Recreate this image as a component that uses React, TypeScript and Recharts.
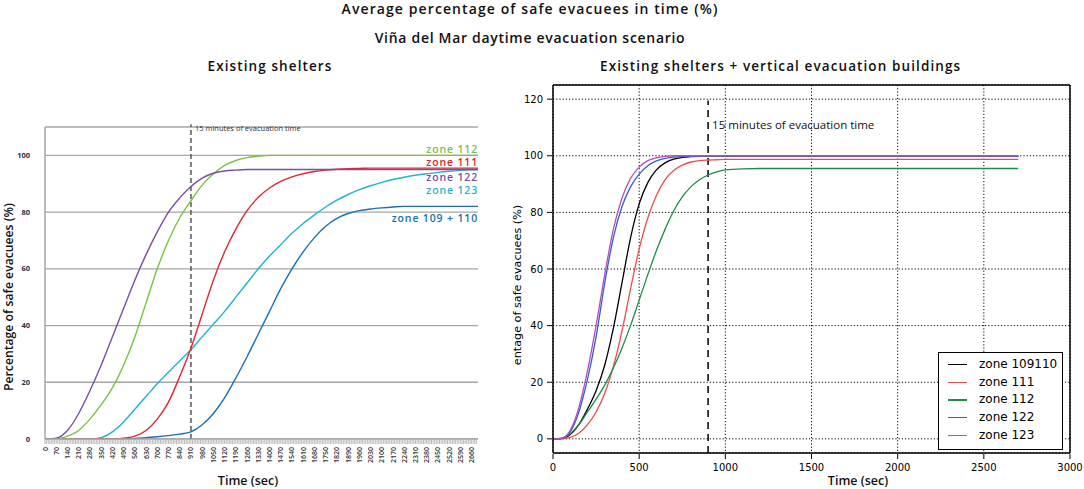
import React from 'react';
import { LineChart, Line, XAxis, YAxis, CartesianGrid, ReferenceLine, Legend } from 'recharts';

// left panel: existing shelters (time every 70 s)
const leftTime = [0, 70, 140, 210, 280, 350, 420, 490, 560, 630, 700, 770, 840, 910, 980, 1050, 1120, 1190, 1260, 1330, 1400, 1470, 1540, 1610, 1680, 1750, 1820, 1890, 1960, 2030, 2100, 2170, 2240, 2310, 2380, 2450, 2520, 2590, 2660, 2700];
const leftZone112 = [0, 0, 1, 3, 7, 12, 18, 26, 36, 48, 60, 70, 78, 84, 89.5, 93.5, 96.5, 98.2, 99.2, 99.7, 100, 100, 100, 100, 100, 100, 100, 100, 100, 100, 100, 100, 100, 100, 100, 100, 100, 100, 100, 100];
const leftZone111 = [0, 0, 0, 0, 0, 0, 0, 0.3, 1, 3, 7, 13, 22, 32, 44, 56, 66, 74, 80.5, 85.2, 88.5, 90.8, 92.4, 93.5, 94.3, 94.8, 95.1, 95.3, 95.4, 95.5, 95.5, 95.5, 95.5, 95.5, 95.5, 95.5, 95.5, 95.5, 95.5, 95.5];
const leftZone122 = [0, 0.3, 3, 9, 17, 26, 36, 46, 56, 65, 73, 80, 85, 89, 92, 93.7, 94.5, 94.8, 95, 95, 95, 95, 95, 95, 95, 95, 95, 95, 95, 95, 95, 95, 95, 95, 95, 95, 95, 95, 95, 95];
const leftZone123 = [0, 0, 0, 0, 0, 0.5, 2.5, 6, 10.5, 15, 19.5, 23.5, 27.5, 31.5, 36, 40.5, 45, 50, 55, 60, 64.5, 68.5, 72.5, 76, 79, 81.8, 84.2, 86.2, 87.9, 89.3, 90.5, 91.5, 92.3, 93, 93.5, 94, 94.4, 94.7, 94.9, 95];
const leftZone109110 = [0, 0, 0, 0, 0, 0, 0, 0, 0.2, 0.5, 0.8, 1.2, 1.7, 2.5, 5, 9, 14.5, 21.5, 29, 37, 45, 53, 60, 66, 71, 75, 77.8, 79.5, 80.5, 81.1, 81.5, 81.8, 82, 82, 82, 82, 82, 82, 82, 82];
const leftTickLabels = [0, 70, 140, 210, 280, 350, 420, 490, 560, 630, 700, 770, 840, 910, 980, 1050, 1120, 1190, 1260, 1330, 1400, 1470, 1540, 1610, 1680, 1750, 1820, 1890, 1960, 2030, 2100, 2170, 2240, 2310, 2380, 2450, 2520, 2590, 2660];
const leftYTicks = [0, 20, 40, 60, 80, 100];

// right panel: existing shelters + vertical evacuation buildings
const rightTime = [0, 50, 100, 150, 200, 250, 300, 350, 400, 450, 500, 550, 600, 650, 700, 750, 800, 850, 900, 950, 1000, 1100, 1200, 1500, 2000, 2700];
const rightZone109110 = [0, 0.1, 1.5, 5, 10.5, 17, 26, 39, 55, 71, 83, 90.5, 95, 97.5, 98.8, 99.4, 99.7, 99.8, 99.8, 99.8, 99.8, 99.8, 99.8, 99.8, 99.8, 99.8];
const rightZone111 = [0, 0, 0.5, 2, 5, 9.5, 16, 25.5, 38, 53, 67, 78, 86, 91.5, 94.8, 96.7, 97.8, 98.3, 98.5, 98.6, 98.7, 98.7, 98.7, 98.7, 98.7, 98.7];
const rightZone112 = [0, 0.2, 1.8, 5, 9.5, 14, 19, 25, 32, 40, 49, 58, 66.5, 74, 80.5, 85.5, 89, 91.5, 93.2, 94.3, 95, 95.4, 95.5, 95.5, 95.5, 95.5];
const rightZone122 = [0, 0.2, 2.5, 9.5, 21, 36, 55, 71, 82, 89, 93.5, 96.5, 98.2, 99.1, 99.5, 99.7, 99.8, 99.8, 99.8, 99.8, 99.8, 99.8, 99.8, 99.8, 99.8, 99.8];
const rightZone123 = [0, 0.2, 3, 11, 24, 40, 58, 74, 85, 92, 96, 98.3, 99.3, 99.8, 100, 100, 100, 100, 100, 100, 100, 100, 100, 100, 100, 100];
const rightXTicks = [0, 500, 1000, 1500, 2000, 2500, 3000];
const rightYTicks = [0, 20, 40, 60, 80, 100, 120];

const leftRows = leftTime.map((t, i) => ({
  t,
  z112: leftZone112[i],
  z111: leftZone111[i],
  z122: leftZone122[i],
  z123: leftZone123[i],
  z109110: leftZone109110[i],
}));

const rightRows = rightTime.map((t, i) => ({
  t,
  z109110: rightZone109110[i],
  z111: rightZone111[i],
  z112: rightZone112[i],
  z122: rightZone122[i],
  z123: rightZone123[i],
}));

const leftSeries = [
  { key: 'z109110', label: 'zone 109 + 110', color: '#1b6db5', dy: 16 },
  { key: 'z123', label: 'zone 123', color: '#1fb3d1', dy: 24.5 },
  { key: 'z111', label: 'zone 111', color: '#e3262c', dy: -2 },
  { key: 'z112', label: 'zone 112', color: '#7ac143', dy: -2.5 },
  { key: 'z122', label: 'zone 122', color: '#7a4ea3', dy: 11 },
];

const rightSeries = [
  { key: 'z109110', name: 'zone 109110', color: '#000000' },
  { key: 'z111', name: 'zone 111', color: '#f24a4a' },
  { key: 'z112', name: 'zone 112', color: '#1f8c47' },
  { key: 'z122', name: 'zone 122', color: '#3a58cf' },
  { key: 'z123', name: 'zone 123', color: '#b04fc0' },
];

const SANS = '"Open Sans", "Noto Sans", sans-serif';
const MPL = '"DejaVu Sans", sans-serif';

const minorTicks = Array.from({ length: 270 }, (_, i) => i * 10);
const labelSet = new Set(leftTickLabels);

function LeftTimeTick(props: any) {
  const { x, y, payload } = props;
  if (!labelSet.has(payload.value)) return <g />;
  return (
    <text
      x={x}
      y={y}
      transform={`rotate(-90 ${x} ${y})`}
      textAnchor="end"
      dominantBaseline="central"
      fontSize={7}
      fontWeight={600}
      fontFamily={SANS}
      fill="#333"
    >
      {payload.value}
    </text>
  );
}

function RightXTick(props: any) {
  const { x, y, payload } = props;
  return (
    <g>
      <line x1={x} x2={x} y1={y - 4} y2={y - 9} stroke="#000" strokeWidth={1} />
      <text x={x} y={y} dy="0.75em" textAnchor="middle" fontSize={10} fontFamily={MPL} fill="#000">
        {payload.value}
      </text>
    </g>
  );
}

function RightYTick(props: any) {
  const { x, y, payload } = props;
  return (
    <g>
      <line x1={x + 4} x2={x + 9} y1={y} y2={y} stroke="#000" strokeWidth={1} />
      <text x={x} y={y} dy="0.35em" textAnchor="end" fontSize={10} fontFamily={MPL} fill="#000">
        {payload.value}
      </text>
    </g>
  );
}

function RightLegend(props: any) {
  const { payload } = props;
  return (
    <div style={{ width: 123, height: 93, border: '1px solid #000', background: '#fff', paddingTop: 3, boxSizing: 'content-box' }}>
      {(payload || []).map((item: any) => (
        <div key={item.value} style={{ height: 17.7, position: 'relative', fontFamily: MPL, fontSize: 12, color: '#000' }}>
          <div style={{ position: 'absolute', left: 9, top: 8, width: 19, height: 1.4, background: item.color }} />
          <div style={{ position: 'absolute', left: 40, top: 0, lineHeight: '17px', whiteSpace: 'nowrap' }}>{item.value}</div>
        </div>
      ))}
    </div>
  );
}

const lastLeft = leftTime.length - 1;

function makeEndLabel(text: string, color: string, dy: number) {
  return (p: any) => {
    if (p.index !== lastLeft) return <g key={p.index} />;
    return (
      <text
        key={p.index}
        x={p.x}
        y={p.y + dy}
        textAnchor="end"
        fontSize={10.5}
        fontWeight={600}
        letterSpacing={0.85}
        fontFamily={SANS}
        fill={color}
      >
        {text}
      </text>
    );
  };
}

const txt = (style: React.CSSProperties, text: string) => (
  <div style={{ position: 'absolute', whiteSpace: 'nowrap', ...style }}>{text}</div>
);

export default function App() {
  return (
    <div style={{ position: 'absolute', left: 0, top: 0, width: 1084, height: 489, background: '#fff', overflow: 'hidden' }}>
      {txt({ left: 230, width: 600, top: 1, textAlign: 'center', fontFamily: SANS, fontWeight: 600, fontSize: 14, letterSpacing: 1.1, lineHeight: '16px', color: '#111' }, 'Average percentage of safe evacuees in time (%)')}
      {txt({ left: 230, width: 600, top: 30, textAlign: 'center', fontFamily: SANS, fontWeight: 600, fontSize: 14, letterSpacing: 0.7, lineHeight: '16px', color: '#111' }, 'Viña del Mar daytime evacuation scenario')}
      {txt({ left: 80, width: 380, top: 58, textAlign: 'center', fontFamily: SANS, fontWeight: 600, fontSize: 13.5, letterSpacing: 1.1, lineHeight: '16px', color: '#111' }, 'Existing shelters')}
      {txt({ left: 600, top: 58, fontFamily: SANS, fontWeight: 600, fontSize: 13.5, letterSpacing: 1.1, lineHeight: '16px', color: '#111' }, 'Existing shelters + vertical evacuation buildings')}

      {/* left panel */}
      <div style={{ position: 'absolute', left: 0, top: 110 }}>
        <LineChart width={490} height={379} data={leftRows} margin={{ top: 17, right: 12, bottom: 0, left: 15 }}>
          <CartesianGrid vertical={false} stroke="#a6a6a6" strokeWidth={1.3} />
          <XAxis
            dataKey="t"
            type="number"
            domain={[0, 2700]}
            ticks={minorTicks}
            interval={0}
            height={50}
            tick={<LeftTimeTick />}
            tickSize={5}
            tickMargin={3}
            tickLine={{ stroke: '#bbb' }}
            axisLine={{ stroke: '#a6a6a6', strokeWidth: 1.5 }}
          />
          <YAxis
            type="number"
            domain={[0, 110]}
            ticks={leftYTicks}
            width={30}
            tickLine={false}
            tickMargin={9}
            axisLine={{ stroke: '#a6a6a6', strokeWidth: 1.5 }}
            tick={{ fontSize: 7.5, fontWeight: 700, fontFamily: SANS, fill: '#1f2f4f' }}
          />
          <ReferenceLine
            segment={[{ x: 910, y: 0 }, { x: 910, y: 111 }]}
            ifOverflow="visible"
            stroke="#555"
            strokeWidth={1.5}
            strokeDasharray="5 3"
            label={(p: any) => (
              <text x={p.viewBox.x + 4} y={p.viewBox.y + 7} fontSize={7.5} fontFamily={SANS} fill="#333">
                15 minutes of evacuation time
              </text>
            )}
          />
          {leftSeries.map((s) => (
            <Line
              key={s.key}
              dataKey={s.key}
              type="monotone"
              stroke={s.color}
              strokeWidth={1.4}
              dot={false}
              isAnimationActive={false}
              label={makeEndLabel(s.label, s.color, s.dy)}
            />
          ))}
        </LineChart>
      </div>
      {txt({ left: 0, top: 297, transform: 'translate(-50%, -50%) rotate(-90deg)', marginLeft: 9, fontFamily: SANS, fontWeight: 600, fontSize: 12.2, lineHeight: '14px', color: '#111' }, 'Percentage of safe evacuees (%)')}
      {txt({ left: 188, width: 120, top: 473, textAlign: 'center', fontFamily: SANS, fontWeight: 600, fontSize: 12.5, lineHeight: '16px', color: '#111' }, 'Time (sec)')}

      {/* right panel */}
      <div style={{ position: 'absolute', left: 500, top: 70 }}>
        <LineChart width={584} height={419} data={rightRows} margin={{ top: 15, right: 14, bottom: 6, left: 13 }}>
          <CartesianGrid stroke="#000" strokeDasharray="1.2 2" strokeWidth={1} />
          <XAxis
            dataKey="t"
            type="number"
            domain={[0, 3000]}
            ticks={rightXTicks}
            interval={0}
            height={30}
            tickLine={false}
            tickMargin={4}
            tick={<RightXTick />}
            axisLine={{ stroke: '#000', strokeWidth: 1.5 }}
          />
          <YAxis
            type="number"
            domain={[-5, 125]}
            ticks={rightYTicks}
            width={40}
            tickLine={false}
            tickMargin={4}
            tick={<RightYTick />}
            axisLine={{ stroke: '#000', strokeWidth: 1.5 }}
          />
          <ReferenceLine y={125} stroke="#000" strokeWidth={1.5} ifOverflow="visible" />
          <ReferenceLine x={3000} stroke="#000" strokeWidth={1.5} ifOverflow="visible" />
          <ReferenceLine
            segment={[{ x: 900, y: -5 }, { x: 900, y: 119.5 }]}
            stroke="#000"
            strokeWidth={1.5}
            strokeDasharray="7 5"
            label={(p: any) => (
              <text x={p.viewBox.x + 4} y={p.viewBox.y + 28} fontSize={11.5} fontFamily={SANS} fill="#111">
                15 minutes of evacuation time
              </text>
            )}
          />
          {rightSeries.map((s) => (
            <Line
              key={s.key}
              dataKey={s.key}
              name={s.name}
              type="monotone"
              stroke={s.color}
              strokeWidth={1.3}
              dot={false}
              isAnimationActive={false}
            />
          ))}
          <Legend
            layout="vertical"
            align="center"
            verticalAlign="middle"
            content={<RightLegend />}
            wrapperStyle={{ left: 438, top: 282, width: 125, height: 97 }}
          />
        </LineChart>
      </div>
      {txt({ left: 518, top: 285, transform: 'translate(-50%, -50%) rotate(-90deg)', fontFamily: MPL, fontSize: 11.2, lineHeight: '14px', color: '#000' }, 'entage of safe evacuees (%)')}
      {txt({ left: 798, width: 120, top: 473, textAlign: 'center', fontFamily: SANS, fontWeight: 600, fontSize: 12.5, lineHeight: '16px', color: '#111' }, 'Time (sec)')}
    </div>
  );
}
